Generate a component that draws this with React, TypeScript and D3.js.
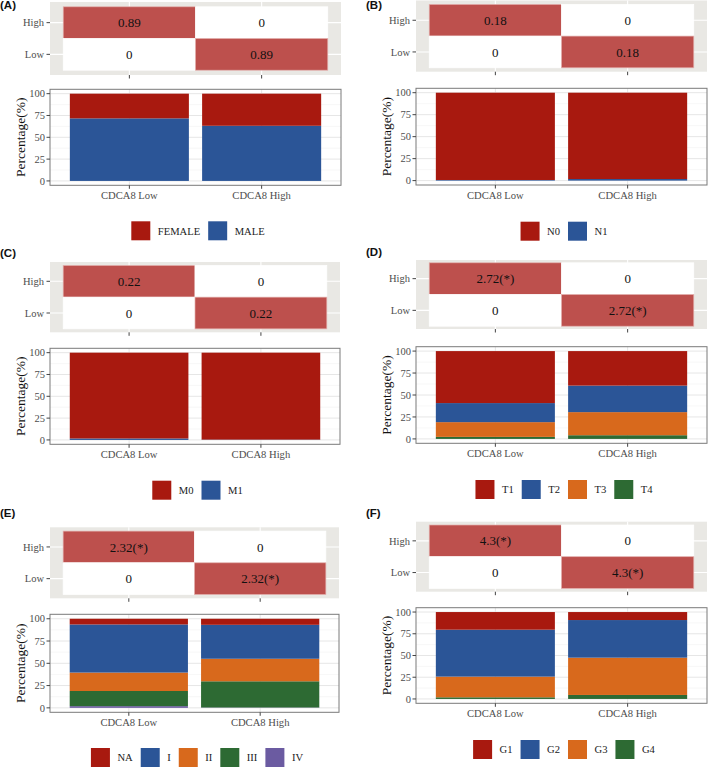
import React from "react";
import * as d3 from "d3";

// ---------- data ----------
const groups = ["CDCA8 Low", "CDCA8 High"];
const heatRows = ["High", "Low"];
const yTicks = [0, 25, 50, 75, 100];
const yMinor = [12.5, 37.5, 62.5, 87.5];

const sexLevels = ["FEMALE", "MALE"];
const sexLow = [28.3, 71.7];
const sexHigh = [36.8, 63.2];
const sexOR = "0.89";

const nLevels = ["N0", "N1"];
const nLow = [99.3, 0.7];
const nHigh = [98.2, 1.8];
const nOR = "0.18";

const mLevels = ["M0", "M1"];
const mLow = [98.3, 1.7];
const mHigh = [99.6, 0.4];
const mOR = "0.22";

const tLevels = ["T1", "T2", "T3", "T4"];
const tLow = [59.2, 21.7, 16.8, 2.3];
const tHigh = [39.3, 30.2, 26.3, 4.2];
const tOR = "2.72(*)";

const stageLevels = ["NA", "I", "II", "III", "IV"];
const stageLow = [6.4, 54.0, 20.7, 17.0, 1.9];
const stageHigh = [6.8, 38.1, 25.3, 29.4, 0.4];
const stageOR = "2.32(*)";

const gradeLevels = ["G1", "G2", "G3", "G4"];
const gradeLow = [20.3, 54.0, 23.8, 1.9];
const gradeHigh = [9.2, 43.3, 42.9, 4.6];
const gradeOR = "4.3(*)";

const tags = ["(A)", "(B)", "(C)", "(D)", "(E)", "(F)"];

// ---------- styles / layout ----------
const palette = ["#A8190F", "#2B5597", "#D8691C", "#2D6A33", "#6B5BA1"];
const tileRed = "#BD504D";
const greyBg = "#E9E8E4";
const serif = "'Liberation Serif', 'Times New Roman', serif";
const sans = "'Liberation Sans', Arial, sans-serif";

const LAYOUT = [
  { tagX: 0, tagY: 9, x0: 50, x1: 341, g0: 2, g1: 75, b0: 89.3, b1: 185.3, leg: 221.3 },
  { tagX: 366, tagY: 9, x0: 416, x1: 707, g0: 0.5, g1: 71.7, b0: 88.3, b1: 185, leg: 221.7 },
  { tagX: 0, tagY: 256.5, x0: 50, x1: 340, g0: 262, g1: 332.3, b0: 348.3, b1: 444.3, leg: 480.7 },
  { tagX: 366, tagY: 256, x0: 416, x1: 707, g0: 260, g1: 329, b0: 346.7, b1: 443.3, leg: 480 },
  { tagX: 0, tagY: 517, x0: 50, x1: 339, g0: 527.3, g1: 598.3, b0: 614.3, b1: 712.3, leg: 748 },
  { tagX: 366, tagY: 517, x0: 416, x1: 707, g0: 521.7, g1: 591.7, b0: 607.7, b1: 703.3, leg: 740 },
];

const PANELS = [
  { levels: sexLevels, low: sexLow, high: sexHigh, or: sexOR },
  { levels: nLevels, low: nLow, high: nHigh, or: nOR },
  { levels: mLevels, low: mLow, high: mHigh, or: mOR },
  { levels: tLevels, low: tLow, high: tHigh, or: tOR },
  { levels: stageLevels, low: stageLow, high: stageHigh, or: stageOR },
  { levels: gradeLevels, low: gradeLow, high: gradeHigh, or: gradeOR },
];

let ctx: CanvasRenderingContext2D | null = null;
function textWidth(s: string, font: string) {
  if (!ctx) ctx = document.createElement("canvas").getContext("2d");
  if (!ctx) return s.length * 6;
  ctx.font = font;
  return ctx.measureText(s).width;
}

function Panel({ layout, data, tag }: any) {
  const { x0, x1, g0, g1, b0, b1, leg, tagX, tagY } = layout;
  const { levels, low, high, or } = data;
  const x = d3.scaleLinear().domain([0.4, 2.6]).range([x0, x1]);
  const gMid = (g0 + g1) / 2;
  const rowH = 31.7;
  const yH = d3.scaleBand<string>().domain(heatRows).range([gMid - rowH, gMid + rowH]);
  const y = d3.scaleLinear().domain([-5, 105]).range([b1, b0]);

  // heatmap cells
  const cells: any[] = [];
  heatRows.forEach((r, ri) => {
    groups.forEach((g, ci) => {
      const diag = (ri === 0 && ci === 0) || (ri === 1 && ci === 1);
      cells.push({ r, ci, label: diag ? or : "0", filled: diag });
    });
  });

  // stacked bars: first level on top
  const stack = [low, high].map((vals: number[], gi: number) => {
    const out: any[] = [];
    let cum = 0;
    for (let k = levels.length - 1; k >= 0; k--) {
      out.push({ gi, k, v0: cum, v1: cum + vals[k] });
      cum += vals[k];
    }
    return out;
  }).flat();

  // legend
  const legFont = `10.6px ${serif}`;
  const sq = 19, gapT = 7.5, gapI = 8;
  const widths = levels.map((l: string) => sq + gapT + textWidth(l, legFont));
  const total = d3.sum(widths) + gapI * (levels.length - 1);
  let lx = (x0 + x1) / 2 + 2.5 - total / 2;
  const legItems = levels.map((l: string, i: number) => {
    const item = { l, x: lx, color: palette[i] };
    lx += widths[i] + gapI;
    return item;
  });

  const bw = 0.9;
  return (
    <g>
      <text x={tagX} y={tagY} fontFamily={sans} fontWeight="bold" fontSize={11.5} fill="#111">
        {tag}
      </text>
      {/* heatmap */}
      <rect x={x0} y={g0} width={x1 - x0} height={g1 - g0} fill={greyBg} />
      {heatRows.map((r) => (
        <line key={r} x1={x0} x2={x1} y1={yH(r)! + rowH / 2} y2={yH(r)! + rowH / 2} stroke="#fff" strokeWidth={1.1} />
      ))}
      {groups.map((g, i) => (
        <line key={g} x1={x(i + 1)} x2={x(i + 1)} y1={g0} y2={g1} stroke="#fff" strokeWidth={1.1} />
      ))}
      {cells.map((c, i) => (
        <g key={i}>
          <rect
            x={x(c.ci + 0.5)}
            y={yH(c.r)}
            width={x(c.ci + 1.5) - x(c.ci + 0.5)}
            height={rowH}
            fill={c.filled ? tileRed : "#fff"}
            stroke={c.filled ? "#E3AFAD" : "#fff"}
            strokeWidth={0.7}
          />
          <text
            x={x(c.ci + 1)}
            y={yH(c.r)! + rowH / 2}
            dy="0.35em"
            textAnchor="middle"
            fontFamily={serif}
            fontSize={13}
            fill="#111"
          >
            {c.label}
          </text>
        </g>
      ))}
      {heatRows.map((r) => (
        <g key={r}>
          <line x1={x0 - 3.5} x2={x0} y1={yH(r)! + rowH / 2} y2={yH(r)! + rowH / 2} stroke="#444" strokeWidth={1} />
          <text x={x0 - 6} y={yH(r)! + rowH / 2} dy="0.35em" textAnchor="end" fontFamily={serif} fontSize={10.5} fill="#4D4D4D">
            {r}
          </text>
        </g>
      ))}
      {groups.map((g, i) => (
        <line key={g} x1={x(i + 1)} x2={x(i + 1)} y1={g1} y2={g1 + 3.5} stroke="#444" strokeWidth={1} />
      ))}

      {/* bar panel */}
      <rect x={x0} y={b0} width={x1 - x0} height={b1 - b0} fill="#fff" />
      {yMinor.map((t) => (
        <line key={t} x1={x0} x2={x1} y1={y(t)} y2={y(t)} stroke="#F2F2F2" strokeWidth={0.6} />
      ))}
      {yTicks.map((t) => (
        <line key={t} x1={x0} x2={x1} y1={y(t)} y2={y(t)} stroke="#E6E6E6" strokeWidth={1} />
      ))}
      {groups.map((g, i) => (
        <line key={g} x1={x(i + 1)} x2={x(i + 1)} y1={b0} y2={b1} stroke="#E6E6E6" strokeWidth={1} />
      ))}
      {stack.map((s: any, i: number) => (
        <rect
          key={i}
          x={x(s.gi + 1 - bw / 2)}
          y={y(s.v1)}
          width={x(s.gi + 1 + bw / 2) - x(s.gi + 1 - bw / 2)}
          height={Math.max(0, y(s.v0) - y(s.v1))}
          fill={palette[s.k]}
        />
      ))}
      <rect x={x0} y={b0} width={x1 - x0} height={b1 - b0} fill="none" stroke="#7A7A7A" strokeWidth={1} />
      {yTicks.map((t) => (
        <g key={t}>
          <line x1={x0 - 3.5} x2={x0} y1={y(t)} y2={y(t)} stroke="#444" strokeWidth={1} />
          <text x={x0 - 5} y={y(t)} dy="0.35em" textAnchor="end" fontFamily={serif} fontSize={10.5} fill="#4D4D4D">
            {t}
          </text>
        </g>
      ))}
      {groups.map((g, i) => (
        <g key={g}>
          <line x1={x(i + 1)} x2={x(i + 1)} y1={b1} y2={b1 + 3.5} stroke="#444" strokeWidth={1} />
          <text x={x(i + 1)} y={b1 + 13.5} textAnchor="middle" fontFamily={serif} fontSize={10.6} fill="#4D4D4D">
            {g}
          </text>
        </g>
      ))}
      <text
        transform={`translate(${x0 - 30},${(b0 + b1) / 2}) rotate(-90)`}
        textAnchor="middle"
        dy="0.35em"
        fontFamily={serif}
        fontSize={13.5}
        fill="#111"
      >
        Percentage(%)
      </text>

      {/* legend */}
      {legItems.map((it: any) => (
        <g key={it.l}>
          <rect x={it.x} y={leg} width={sq} height={sq} fill={it.color} />
          <text x={it.x + sq + gapT} y={leg + sq / 2} dy="0.35em" fontFamily={serif} fontSize={10.6} fill="#222">
            {it.l}
          </text>
        </g>
      ))}
    </g>
  );
}

export default function App() {
  return (
    <svg
      width={709}
      height={769}
      viewBox="0 0 709 769"
      style={{ position: "absolute", left: 0, top: 0, background: "#fff" }}
    >
      <rect width={709} height={769} fill="#fff" />
      {PANELS.map((p, i) => (
        <Panel key={i} layout={LAYOUT[i]} data={p} tag={tags[i]} />
      ))}
    </svg>
  );
}
